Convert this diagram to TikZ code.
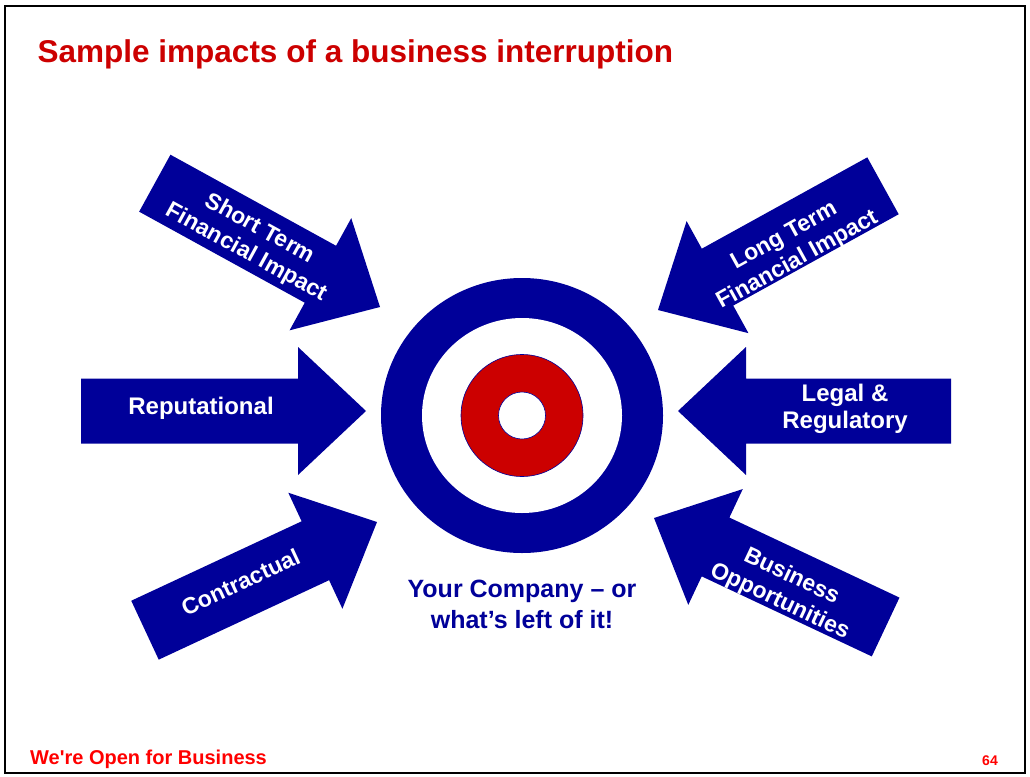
\documentclass[tikz,border=0pt]{standalone}
\usepackage{fontspec}
\setmainfont{Liberation Sans}
\newfontfamily\plainsans{Liberation Sans}
\usetikzlibrary{shapes.geometric}
\definecolor{navy}{RGB}{0,0,153}
\definecolor{bullred}{RGB}{204,0,0}
\definecolor{titlered}{RGB}{204,0,0}
\definecolor{footred}{RGB}{255,0,0}

\tikzset{
  pics/impact/.style={code={
    \fill[navy] (0,0) -- (-68,64) -- (-68,32.5) -- (-#1,32.5) -- (-#1,-32.5) -- (-68,-32.5) -- (-68,-64) -- cycle;
  }},
  impact text/.style={white,font=\fontsize{23}{27.5}\selectfont\bfseries,align=center,inner sep=0pt}
}

\begin{document}
\begin{tikzpicture}[x=1pt,y=-1pt]
\useasboundingbox (0,0) rectangle (1030,776);
\draw[line width=2pt] (5,6) rectangle (1025,773);

\node[anchor=base west,inner sep=0pt,text=titlered,font=\fontsize{31.5}{36}\selectfont\bfseries] (title) at (37.5,62.5) {Sample impacts of a business interruption};

\node[ellipse,fill=navy,minimum width=282pt,minimum height=275pt,inner sep=0pt] (outer) at (522,415.5) {};
\node[ellipse,fill=white,minimum width=200pt,minimum height=195pt,inner sep=0pt] (ring) at (outer.center) {};
\node[circle,fill=bullred,draw=navy,line width=0.6pt,minimum size=122pt,inner sep=0pt] (bull) at (outer.center) {};
\node[circle,fill=white,draw=navy,line width=0.6pt,minimum size=47pt,inner sep=0pt] (eye) at (outer.center) {};

\pic[rotate=-28.8] at (380,307) {impact=257};
\pic[rotate=-151.1] at (658,310) {impact=257};
\pic at (366,411) {impact=285};
\pic[rotate=180] at (678,411) {impact=273};
\pic[rotate=25] at (377,522) {impact=256};
\pic[rotate=154.8] at (654,518) {impact=256};

\node[impact text,rotate=-28.8] (shortTerm) at (253,241) {Short Term\\Financial Impact};
\node[impact text,rotate=28.9] (longTerm) at (791,248.5) {Long Term\\Financial Impact};
\node[impact text,font=\fontsize{24}{27}\selectfont\bfseries] (reput) at (201,408) {Reputational};
\node[impact text,font=\fontsize{24}{27}\selectfont\bfseries] (legal) at (845,409) {Legal \&\\Regulatory};
\node[impact text,rotate=25] (contract) at (240.5,582) {Contractual};
\node[impact text,rotate=-25.2] (busOpp) at (785.5,589.5) {Business\\Opportunities};

\node[text=navy,font=\fontsize{25}{31}\selectfont\bfseries,align=center,inner sep=0pt] (company) at (522,604) {Your Company -- or\\what's left of it!};

\node[anchor=base west,inner sep=0pt,text=footred,font=\plainsans\fontsize{20}{24}\selectfont\bfseries] (footer) at (30,764) {We're Open for Business};
\node[anchor=base east,inner sep=0pt,text=footred,font=\fontsize{14}{16}\selectfont\bfseries] (pageNo) at (998,765) {64};
\end{tikzpicture}
\end{document}
